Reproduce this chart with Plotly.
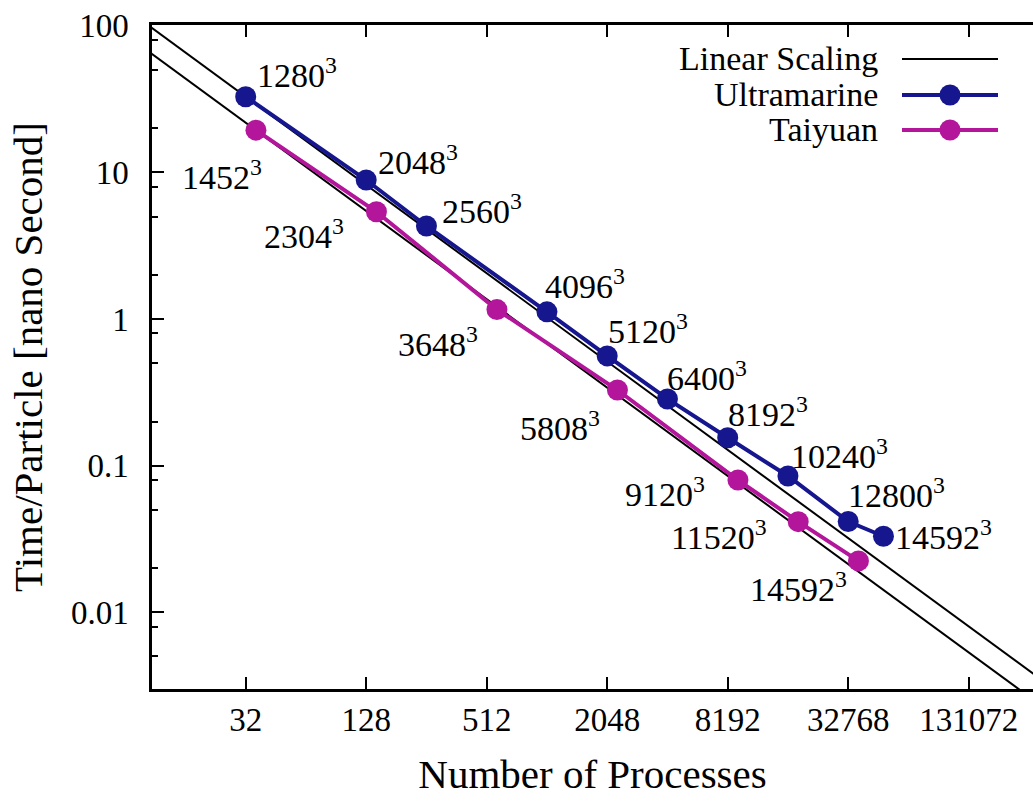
import numpy as np
import plotly.graph_objects as go

# ---------------- data ----------------
ultra_procs = [32, 128, 256, 1024, 2048, 4096, 8192, 16384, 32768, 49152]
ultra_time = [32.8, 8.87, 4.31, 1.12, 0.560, 0.285, 0.155, 0.085, 0.0416, 0.0330]
ultra_grid = ["1280", "2048", "2560", "4096", "5120", "6400", "8192", "10240", "12800", "14592"]

taiyuan_procs = [36, 144, 576, 2304, 9216, 18432, 36864]
taiyuan_time = [19.4, 5.39, 1.16, 0.328, 0.0798, 0.0415, 0.0224]
taiyuan_grid = ["1452", "2304", "3648", "5808", "9120", "11520", "14592"]

lin_procs = [8, 524288]
lin_upper_time = [131.25, 0.002003]
lin_lower_time = [87.25, 0.001331]

x_tickvals = [32, 128, 512, 2048, 8192, 32768, 131072]
x_ticktext = ["32", "128", "512", "2048", "8192", "32768", "131072"]
y_tickvals = [0.01, 0.1, 1, 10, 100]
y_ticktext = ["0.01", "0.1", "1", "10", "100"]
y_minorvals = [0.005, 0.008, 0.02, 0.05, 0.08, 0.2, 0.5, 0.8, 2, 5, 8, 20, 50, 80]

# ---------------- style ----------------
FONT = "Liberation Serif"
BLUE = "#16168e"
MAGENTA = "#b3169b"
W, H = 1033, 805
ML, MR, MT, MB = 152, 0, 25, 116
XR = [1.0370, 5.4387]
YR = [-2.523, 2.005]

# label offsets in pixels (dx, dy) relative to the point
ultra_off = [(9, -24), (10, -20), (14, -17), (-4, -28), (-1, -27), (-2, -23), (-2, -26), (1, -22), (-2, -29), (10, -1)]
taiyuan_off = [(8, 45), (-30, 22), (-17, 32), (-15, 36), (-31, 12), (-29, 13), (-9, 26)]

fig = go.Figure()
for yy in (lin_upper_time, lin_lower_time):
    fig.add_trace(go.Scatter(x=lin_procs, y=yy, mode="lines",
                             line=dict(color="black", width=2), showlegend=False,
                             hoverinfo="skip"))
fig.add_trace(go.Scatter(x=ultra_procs, y=ultra_time, mode="lines+markers",
                         line=dict(color=BLUE, width=4),
                         marker=dict(size=21, color=BLUE), name="Ultramarine",
                         showlegend=False))
fig.add_trace(go.Scatter(x=taiyuan_procs, y=taiyuan_time, mode="lines+markers",
                         line=dict(color=MAGENTA, width=4),
                         marker=dict(size=21, color=MAGENTA), name="Taiyuan",
                         showlegend=False))

annotations = []
for xv, yv, g, (dx, dy) in zip(ultra_procs, ultra_time, ultra_grid, ultra_off):
    annotations.append(dict(x=np.log10(xv), y=np.log10(yv), xref="x", yref="y",
                            text=f"{g}<sup>3</sup>", showarrow=False,
                            xanchor="left", yanchor="middle", xshift=dx, yshift=-dy,
                            font=dict(family=FONT, size=34, color="black")))
for xv, yv, g, (dx, dy) in zip(taiyuan_procs, taiyuan_time, taiyuan_grid, taiyuan_off):
    annotations.append(dict(x=np.log10(xv), y=np.log10(yv), xref="x", yref="y",
                            text=f"{g}<sup>3</sup>", showarrow=False,
                            xanchor="right", yanchor="middle", xshift=dx, yshift=-dy,
                            font=dict(family=FONT, size=34, color="black")))

# manual legend (text right-aligned, sample on the right)
pw, ph = W - ML - MR, H - MT - MB
def px(x):
    return (x - ML) / pw
def py(y):
    return 1 - (y - MT) / ph

legend_items = [("Linear Scaling", "black", False, 59),
                ("Ultramarine", BLUE, True, 95),
                ("Taiyuan", MAGENTA, True, 130)]
shapes = []
for name, col, mk, ypix in legend_items:
    annotations.append(dict(x=px(880), y=py(ypix), xref="paper", yref="paper",
                            text=name, showarrow=False, xanchor="right", yanchor="middle",
                            font=dict(family=FONT, size=34, color="black")))
    shapes.append(dict(type="line", xref="paper", yref="paper",
                       x0=px(902), x1=px(998), y0=py(ypix), y1=py(ypix),
                       line=dict(color=col, width=2 if not mk else 4)))
    if mk:
        shapes.append(dict(type="circle", xref="paper", yref="paper",
                           xsizemode="pixel", ysizemode="pixel",
                           xanchor=px(950), yanchor=py(ypix),
                           x0=-10.5, x1=10.5, y0=-10.5, y1=10.5,
                           fillcolor=col, line=dict(color=col, width=0)))

fig.update_layout(
    width=W, height=H,
    margin=dict(l=ML, r=MR, t=MT, b=MB, autoexpand=False),
    paper_bgcolor="white", plot_bgcolor="white",
    font=dict(family=FONT, size=34, color="black"),
    showlegend=False,
    annotations=annotations,
    shapes=shapes,
    xaxis=dict(type="log", range=XR, tickvals=x_tickvals, ticktext=x_ticktext,
               ticks="inside", ticklen=12, tickwidth=1.5, tickcolor="black",
               showline=True, linewidth=2.5, linecolor="black", mirror="ticks",
               showgrid=False, zeroline=False,
               tickfont=dict(family=FONT, size=33, color="black"),
               title=dict(text="Number of Processes", standoff=22,
                          font=dict(family=FONT, size=41, color="black"))),
    yaxis=dict(type="log", range=YR, tickvals=y_tickvals, ticktext=y_ticktext,
               ticks="inside", ticklen=12, tickwidth=1.5, tickcolor="black",
               showline=True, linewidth=2.5, linecolor="black", mirror=False,
               showgrid=False, zeroline=False, ticklabelstandoff=14,
               minor=dict(tickvals=y_minorvals, ticks="inside", ticklen=6,
                          tickwidth=1.5, tickcolor="black", showgrid=False),
               tickfont=dict(family=FONT, size=33, color="black"),
               title=dict(text="Time/Particle [nano Second]", standoff=16,
                          font=dict(family=FONT, size=41, color="black"))),
    yaxis2=dict(type="log", range=YR, overlaying="y", side="right", anchor="x",
                tickvals=y_tickvals, ticks="inside", ticklen=12, tickwidth=1.5,
                tickcolor="black", showticklabels=False, showline=False,
                showgrid=False, zeroline=False,
                minor=dict(tickvals=y_minorvals, ticks="inside", ticklen=6,
                           tickwidth=1.5, tickcolor="black", showgrid=False)),
)

fig.write_html("out.html")
